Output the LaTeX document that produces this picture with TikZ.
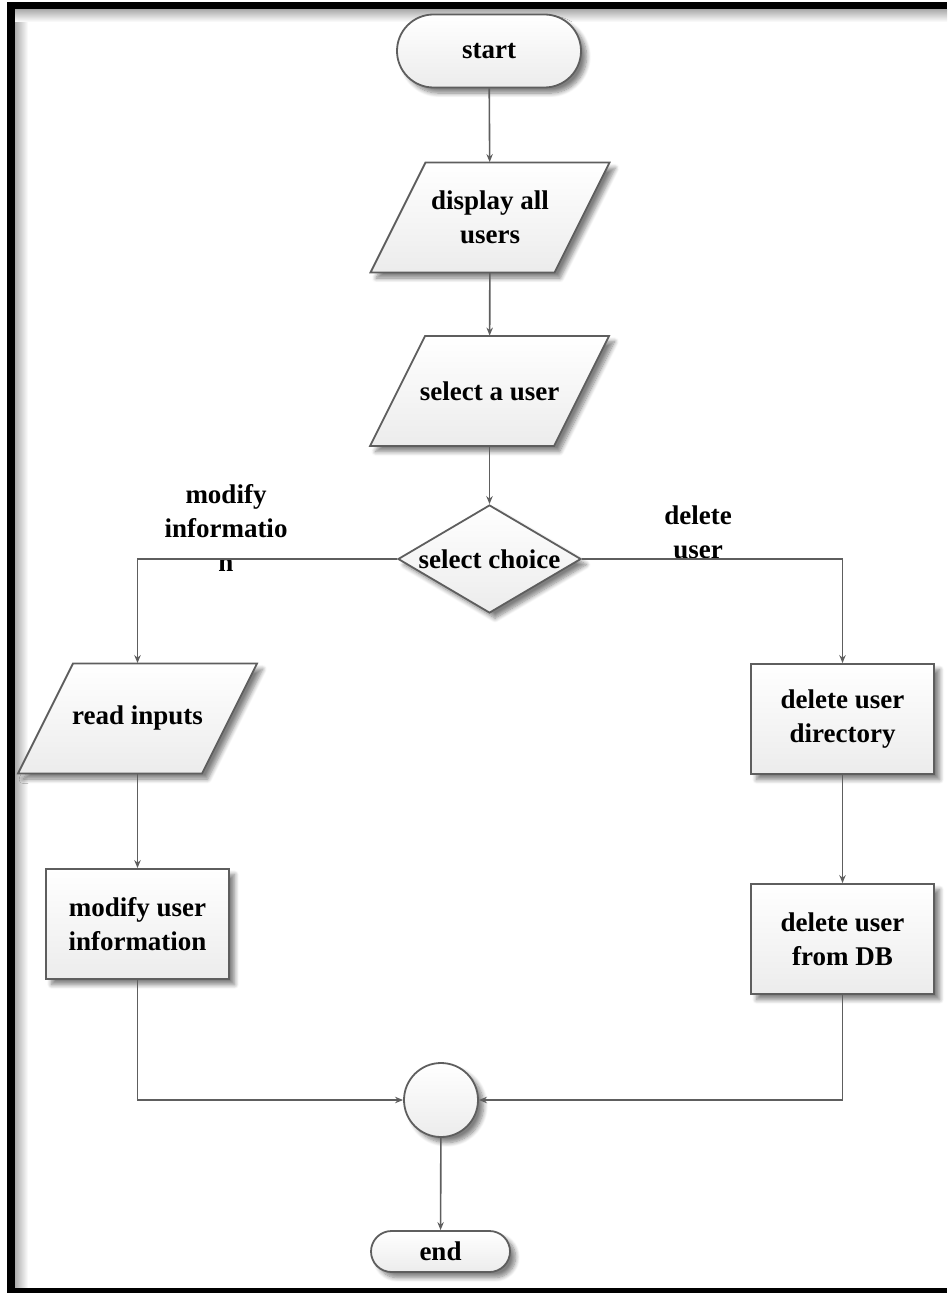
\documentclass[tikz,border=0pt]{standalone}
\usepackage{fontspec}
\setmainfont{Liberation Serif}
\usetikzlibrary{shapes.geometric,shapes.misc,arrows.meta,shadows.blur}
\definecolor{edgecol}{HTML}{5E5E5E}
\newcommand\drawpara[1]{%
  \path[pshape] ([shift={(-64.5,-55)}]#1) -- ([shift={(119.5,-55)}]#1)
    -- ([shift={(64.5,55)}]#1) -- ([shift={(-119.5,55)}]#1) -- cycle;}
\begin{document}
\begin{tikzpicture}[x=0.5pt,y=-0.5pt,
  txt/.style={font=\bfseries\fontsize{13.5}{17}\selectfont, align=center},
  look/.style={draw=edgecol, line width=0.9pt, top color=white, bottom color=gray!15,
    blur shadow={shadow xshift=2.8pt, shadow yshift=-2.8pt, shadow blur steps=8, shadow blur radius=2.2pt, shadow opacity=50}},
  shp/.style={txt, look, inner sep=0pt},
  pshape/.style={look},
  term/.style={shp, rounded rectangle},
  io/.style={txt, rectangle, inner sep=0pt, minimum width=92pt, minimum height=55pt},
  proc/.style={shp, rectangle, minimum width=91.5pt, minimum height=55pt},
  dec/.style={shp, diamond, aspect=1.7, minimum width=91.5pt, minimum height=54pt},
  junc/.style={shp, circle, minimum size=37pt},
  lbl/.style={txt},
  conn/.style={draw=edgecol, line width=0.8pt, -{Stealth[length=4pt,width=3.2pt]}}
]
\useasboundingbox (0,0) rectangle (947,1293);
% frame
\shade[left color=gray!65, right color=white] (15,9.5) rectangle (28,1288);
\shade[top color=gray!65, bottom color=white] (15,9.5) rectangle (947,22);
\fill[black] (7,2.5) rectangle (947,9.5);
\fill[black] (7,2.5) rectangle (15,1293);
\fill[black] (15,1288) rectangle (947,1293);

% parallelogram outlines (drawn under their text nodes)
\coordinate (dispc) at (490,217.5);
\coordinate (selc) at (489.5,391);
\coordinate (readc) at (137.5,718.5);
\drawpara{dispc}
\drawpara{selc}
\drawpara{readc}

% nodes
\node[term, minimum width=92pt, minimum height=36.5pt] (start) at (489,51) {start};
\node[io] (disp) at (dispc) {display all\\users};
\node[io] (sel) at (selc) {select a user};
\node[dec] (choice) at (489.5,559) {select choice};
\node[io] (read) at (readc) {read inputs};
\node[proc] (modu) at (137.5,924) {modify user\\information};
\node[proc] (deldir) at (842.5,719) {delete user\\directory};
\node[proc] (deldb) at (842.5,939) {delete user\\from DB};
\node[junc] (join) at (441,1100) {};
\node[term, minimum width=69.5pt, minimum height=20.5pt] (end) at (440.5,1251.5) {end};

% labels
\node[lbl] (lmod) at (226,528) {modify\\informatio\\n};
\node[lbl] (ldel) at (698,532) {delete\\user};

% connectors
\draw[conn] (start) -- (disp);
\draw[conn] (disp) -- (sel);
\draw[conn] (sel) -- (choice);
\draw[conn] (choice.west) -| (read.north);
\draw[conn] (choice.east) -| (deldir.north);
\draw[conn] (read) -- (modu);
\draw[conn] (deldir) -- (deldb);
\draw[conn] (modu.south) |- (join.west);
\draw[conn] (deldb.south) |- (join.east);
\draw[conn] (join) -- (end);
\end{tikzpicture}
\end{document}
